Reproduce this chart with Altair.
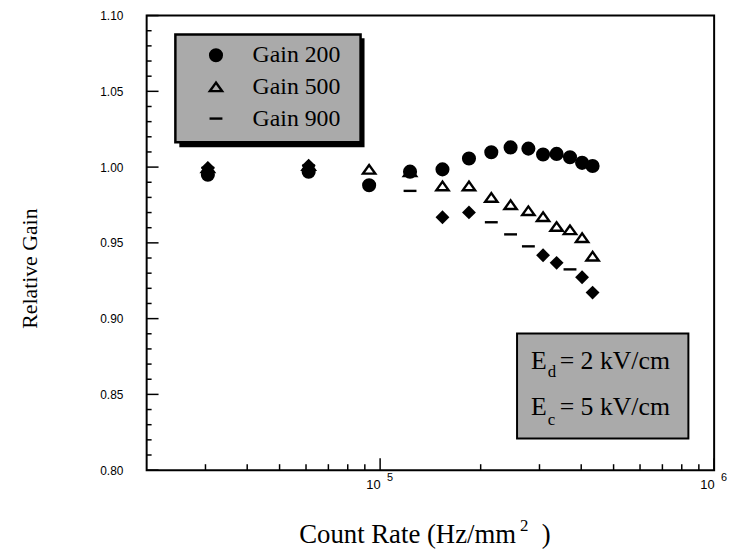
import altair as alt
import pandas as pd

W, H = 573, 459

# ---- data ----
series_names = ["Gain 200", "Gain 500", "Gain 900"]

gain200_x = [30500, 61100, 92700, 122900, 153700, 184500, 215200, 245800, 277900, 307500, 337600, 370200, 402400, 432600]
gain200_y = [0.995, 0.997, 0.988, 0.997, 0.9985, 1.0057, 1.0098, 1.013, 1.0122, 1.0083, 1.0087, 1.0065, 1.0028, 1.0007]

gain500_x = [30500, 61100, 92700, 122900, 153700, 184500, 215200, 245800, 277900, 307500, 337600, 370200, 402400, 432600]
gain500_y = [0.9995, 1.001, 0.9985, 0.997, 0.9876, 0.9876, 0.980, 0.9752, 0.9712, 0.9673, 0.9608, 0.9586, 0.9534, 0.9412]

gain900_x = [30500, 61100, 122900, 215200, 245800, 277900, 370200]
gain900_y = [0.9995, 1.001, 0.9843, 0.9636, 0.9556, 0.9477, 0.9325]

extra_x = [30500, 61100, 153700, 184500, 307500, 337600, 402400, 432600]
extra_y = [0.9995, 1.001, 0.9669, 0.9701, 0.9418, 0.9368, 0.9273, 0.9172]

y_major = [0.80, 0.85, 0.90, 0.95, 1.00, 1.05, 1.10]
y_minor = [round(0.80 + 0.01 * i, 2) for i in range(31) if i % 5 != 0]
x_major = [1e5, 1e6]
x_minor = [k * 1e4 for k in range(3, 10)] + [k * 1e5 for k in range(2, 10)]
x_sup_pos = [1e5, 1e6]
x_sup_txt = ["5", "6"]

rows = []
for name, xs, ys in [("Gain 500", gain500_x, gain500_y),
                     ("Gain 900", gain900_x, gain900_y),
                     ("Gain 200", gain200_x, gain200_y)]:
    for a, b in zip(xs, ys):
        rows.append({"rate": a, "gain": b, "series": name})
df = pd.DataFrame(rows)
df_extra = pd.DataFrame({"rate": extra_x, "gain": extra_y})

XS = alt.Scale(type="log", domain=[2e4, 1e6], nice=False)
YS = alt.Scale(domain=[0.80, 1.10], nice=False, zero=False)

SERIF = "Liberation Serif"
SANS = "Liberation Sans"

TRI = "M0,-0.7L-1,0.7L1,0.7Z"
DASH = "M-1,0L1,0"

x_axis = alt.Axis(values=x_major, labelExpr="'10'", labelAlign="right", labelFont=SANS,
                  labelFontSize=13, labelColor="black", ticks=False, domain=False, grid=False,
                  title=None, labelPadding=9, labelFlush=False)
y_axis = alt.Axis(values=y_major, format=".2f", labelFont=SANS, labelFontSize=12,
                  labelColor="black", ticks=False, domain=False, grid=False, labelPadding=24,
                  title="Relative Gain", titleFont=SERIF, titleFontSize=22,
                  titleFontWeight="normal", titleColor="black", titleAngle=270,
                  titleX=-118, titleY=255, titleAlign="center", titleBaseline="middle")

def X(field):
    return alt.X(field, scale=XS, axis=x_axis)

def Y(field):
    return alt.Y(field, scale=YS, axis=y_axis)

dummy = pd.DataFrame({"a": [0]})

def rect(x1, x2, y1, y2, fill, stroke=None, sw=0):
    kw = dict(fill=fill)
    if stroke:
        kw.update(stroke=stroke, strokeWidth=sw)
    return alt.Chart(dummy).mark_rect(**kw).encode(
        x=alt.value(x1), x2=alt.value(x2), y=alt.value(y1), y2=alt.value(y2))

def txt(t, x, y, size, align="left"):
    return alt.Chart(pd.DataFrame({"t": [t]})).mark_text(
        font=SERIF, fontSize=size, align=align, baseline="alphabetic", color="black"
    ).encode(x=alt.value(x), y=alt.value(y), text="t:N")

shadow = rect(33, 220, 23, 133, "black")
legbox = rect(29, 216, 19, 128, "#aaaaaa", "black", 2.5)
ebox = rect(374, 547, 321, 427, "#aaaaaa", "black", 2)

ymaj = alt.Chart(pd.DataFrame({"v": y_major})).mark_rule(color="black", strokeWidth=1.5).encode(
    y=Y("v:Q"), x=alt.value(0), x2=alt.value(12))
ymin = alt.Chart(pd.DataFrame({"v": y_minor})).mark_rule(color="black", strokeWidth=1.5).encode(
    y=Y("v:Q"), x=alt.value(0), x2=alt.value(5))
xmaj = alt.Chart(pd.DataFrame({"v": x_major})).mark_rule(color="black", strokeWidth=1.5).encode(
    x=X("v:Q"), y=alt.value(H), y2=alt.value(H - 12))
xmin = alt.Chart(pd.DataFrame({"v": x_minor})).mark_rule(color="black", strokeWidth=1.5).encode(
    x=X("v:Q"), y=alt.value(H), y2=alt.value(H - 6))

sup = alt.Chart(pd.DataFrame({"v": x_sup_pos, "t": x_sup_txt})).mark_text(
    font=SANS, fontSize=11, align="left", dx=7, baseline="alphabetic", color="black"
).encode(x=X("v:Q"), y=alt.value(H + 11), text="t:N")

legend = alt.Legend(orient="none", legendX=58, legendY=28, title=None, labelFont=SERIF,
                    labelFontSize=24, labelColor="black", symbolStrokeColor="black",
                    symbolStrokeWidth=2.4, rowPadding=8, labelOffset=25, padding=0)

pts = alt.Chart(df).mark_point(strokeWidth=2.4, opacity=1).encode(
    x=X("rate:Q"),
    y=Y("gain:Q"),
    shape=alt.Shape("series:N", scale=alt.Scale(domain=series_names, range=["circle", TRI, DASH]), legend=legend),
    fill=alt.Fill("series:N", scale=alt.Scale(domain=series_names, range=["black", "transparent", "black"]), legend=legend),
    stroke=alt.Stroke("series:N", scale=alt.Scale(domain=series_names, range=["black", "black", "black"]), legend=legend),
    size=alt.Size("series:N", scale=alt.Scale(domain=series_names, range=[140, 169, 196]), legend=legend),
)

dia = alt.Chart(df_extra).mark_point(shape="diamond", filled=True, color="black", size=196, opacity=1).encode(
    x=X("rate:Q"),
    y=Y("gain:Q"),
)

texts = [
    txt("E", 388, 357, 26), txt("d", 405, 365, 17), txt("= 2 kV/cm", 417, 357, 26),
    txt("E", 388, 403, 26), txt("c", 405, 413, 17), txt("= 5 kV/cm", 417, 403, 26),
    txt("Count Rate (Hz/mm", 373, 533, 27, align="right"),
    txt("2", 377, 520, 17), txt(")", 399, 533, 27),
]

chart = alt.layer(shadow, legbox, ebox, ymaj, ymin, xmaj, xmin, sup, pts, dia, *texts).properties(
    width=W, height=H,
    padding={"left": 140, "top": 5, "right": 14, "bottom": 80},
    autosize=alt.AutoSizeParams(type="none"),
    background="white",
).configure(font=SERIF).configure_view(stroke="black", strokeWidth=2).configure_legend(
    labelFont=SERIF, labelFontSize=24)

chart.save("out.html", embed_options={"renderer": "svg", "actions": False})
